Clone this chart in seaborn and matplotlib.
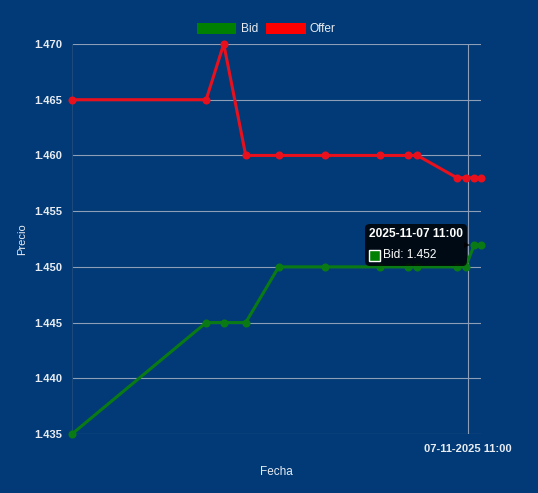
import matplotlib
matplotlib.use("Agg")
import pandas as pd
import matplotlib.pyplot as plt
import matplotlib.dates as mdates
from matplotlib.ticker import MultipleLocator, FormatStrFormatter
from matplotlib.patches import Patch, Rectangle
from matplotlib.offsetbox import AnnotationBbox, TextArea, HPacker, VPacker, DrawingArea
from matplotlib.transforms import ScaledTranslation
import seaborn as sns

# -----------------------------
# Datos
# -----------------------------
fechas = ["2025-11-07 08:00", "2025-11-07 09:01", "2025-11-07 09:09", "2025-11-07 09:19",
          "2025-11-07 09:34", "2025-11-07 09:55", "2025-11-07 10:20", "2025-11-07 10:33",
          "2025-11-07 10:37", "2025-11-07 10:55", "2025-11-07 10:59", "2025-11-07 11:03",
          "2025-11-07 11:06"]
bid = [1.435, 1.445, 1.445, 1.445, 1.450, 1.450, 1.450, 1.450, 1.450, 1.450, 1.450, 1.452, 1.452]
offer = [1.465, 1.465, 1.470, 1.460, 1.460, 1.460, 1.460, 1.460, 1.460, 1.458, 1.458, 1.458, 1.458]
series = ["Bid", "Offer"]
colores = ["#008000", "#ff0000"]
colores_linea = ["#0a7a14", "#e8101c"]
tick_fecha = "2025-11-07 11:00"
tooltip_idx = 11
tooltip_titulo = "2025-11-07 11:00"

BG = "#013a76"
GRID = "#8d9fb8"
TXT = "#e8ecf2"

# -----------------------------
# Estilo
# -----------------------------
sns.set_style("dark")
plt.rcParams["font.family"] = ["Liberation Sans", "DejaVu Sans"]

df = pd.DataFrame({
    "Fecha": pd.to_datetime(fechas * 2),
    "Precio": bid + offer,
    "serie": [series[0]] * len(bid) + [series[1]] * len(offer),
})

fig = plt.figure(figsize=(5.38, 4.93), dpi=100, facecolor=BG)
ax = fig.add_axes([72 / 538, 1 - 434 / 493, 409 / 538, 390 / 493])
ax.set_facecolor(BG)

sns.lineplot(data=df, x="Fecha", y="Precio", hue="serie", palette=dict(zip(series, colores_linea)),
             marker="o", markersize=5.8, markeredgewidth=0, linewidth=2.2,
             legend=False, ax=ax, clip_on=False, zorder=3)

ax.set_xlim(df["Fecha"].min(), df["Fecha"].max())
ax.set_ylim(1.435, 1.470)
ax.yaxis.set_major_locator(MultipleLocator(0.005))
ax.yaxis.set_major_formatter(FormatStrFormatter("%.3f"))
ax.set_xticks([pd.Timestamp(tick_fecha)])
ax.xaxis.set_major_formatter(mdates.DateFormatter("%d-%m-%Y %H:%M"))

ax.grid(True, color=GRID, linewidth=0.8)
ax.tick_params(colors=GRID, length=5, width=0.8, pad=2, labelcolor=TXT, labelsize=8)
for lab in ax.get_xticklabels() + ax.get_yticklabels():
    lab.set_fontweight("bold")
for s in ["top", "right", "bottom"]:
    ax.spines[s].set_visible(False)
ax.spines["left"].set_color("#1d4a7c")
ax.spines["left"].set_linewidth(0.8)

ax.set_xlabel("Fecha", color=TXT, fontsize=8.5, labelpad=9)
ax.set_ylabel("Precio", color=TXT, fontsize=8, labelpad=5)

# Leyenda estilo Chart.js
handles = [Patch(facecolor=c, edgecolor="none", label=s) for s, c in zip(series, colores)]
fig.legend(handles=handles, loc="center", bbox_to_anchor=(0.495, 1 - 29 / 493), ncol=2,
           frameon=False, fontsize=8.6, labelcolor=TXT, handlelength=3.3, handleheight=1.15,
           handletextpad=0.35, columnspacing=0.7)

# Tooltip
punto = (pd.Timestamp(fechas[tooltip_idx]), bid[tooltip_idx])
titulo = TextArea(tooltip_titulo, textprops=dict(color="white", fontweight="bold", size=8.6))
cuadro = DrawingArea(8, 8)
cuadro.add_artist(Rectangle((0, 0), 8, 8, facecolor=colores[0], edgecolor="white", linewidth=1))
valor = TextArea(f"{series[0]}: {bid[tooltip_idx]:.3f}", textprops=dict(color="white", size=8.6))
cuerpo = VPacker(children=[titulo, HPacker(children=[cuadro, valor], sep=2, align="center")],
                 sep=7, pad=0, align="left")
ab = AnnotationBbox(cuerpo, punto, xybox=(-8, 0), xycoords="data", boxcoords="offset points",
                    box_alignment=(1, 0.5), frameon=True, pad=0.3,
                    bboxprops=dict(boxstyle="round,pad=0.3,rounding_size=0.35",
                                   facecolor="black", alpha=0.82, edgecolor="none"))
ab.set_zorder(5)
ax.add_artist(ab)
# flechita del tooltip
ax.plot([punto[0]], [punto[1]], marker=">", markersize=5, color="black", alpha=0.82,
        markeredgewidth=0, transform=ax.transData + ScaledTranslation(-5 / 72, 0, fig.dpi_scale_trans),
        zorder=5, clip_on=False)

fig.savefig("out.png", dpi=100, facecolor=BG)
